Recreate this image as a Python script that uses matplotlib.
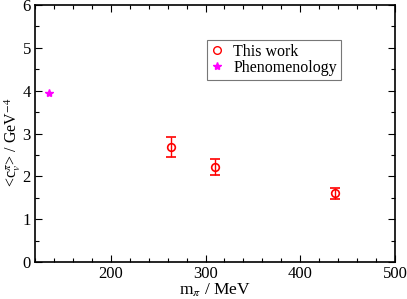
import matplotlib
matplotlib.use('Agg')
import matplotlib.pyplot as plt
from matplotlib.ticker import MultipleLocator
from matplotlib.lines import Line2D

plt.rcParams['font.family'] = ['Liberation Serif', 'DejaVu Serif']
plt.rcParams['mathtext.fontset'] = 'stix'

# lattice results
m_pi = [264, 310.5, 436.5]
cv = [2.68, 2.22, 1.60]
cv_err = [0.23, 0.19, 0.13]

# phenomenology
m_pi_phen = [135]
cv_phen = [3.94]

fig = plt.figure(figsize=(4.07, 2.99), dpi=100)
ax = fig.add_axes([35/407, 37/299, 360/407, 257/299])

ax.errorbar(m_pi, cv, yerr=cv_err, fmt='o', mfc='none', mec='red', ecolor='red',
            ms=5.5, mew=1.2, elinewidth=1.0, capsize=3.5, capthick=1.0)
ax.plot(m_pi_phen, cv_phen, '*', color='magenta', ms=6, mec='magenta', linestyle='none')

ax.set_xlim(120, 500)
ax.set_ylim(0, 6)
ax.xaxis.set_major_locator(MultipleLocator(100))
ax.xaxis.set_minor_locator(MultipleLocator(20))
ax.yaxis.set_major_locator(MultipleLocator(1))
ax.yaxis.set_minor_locator(MultipleLocator(0.5))
ax.tick_params(which='both', direction='in', top=True, right=True, labelsize=12, width=0.8)
ax.tick_params(which='major', length=5, pad=3)
ax.tick_params(which='minor', length=3)
for s in ax.spines.values():
    s.set_linewidth(1.2)

ax.set_xlabel(r'm$_\pi$ / MeV', fontsize=12.5)
ax.xaxis.set_label_coords(0.5, -0.078)
ax.set_ylabel(r'<c$_v^{\pi}$> / GeV$^{-4}$', fontsize=11.5)
ax.yaxis.set_label_coords(-0.034, 0.467)

handles = [Line2D([], [], marker='o', mfc='none', mec='red', ms=5.5, mew=1.0, ls='none'),
           Line2D([], [], marker='*', color='magenta', ms=6, ls='none')]
leg = ax.legend(handles, ['This work', 'Phenomenology'], loc='upper left',
                bbox_to_anchor=(172/360, 1-35/257),
                fontsize=11.5, frameon=True, fancybox=False, edgecolor='#555555',
                handlelength=0.8, handletextpad=0.6, borderpad=0.25, labelspacing=0.0,
                borderaxespad=0)
leg.get_frame().set_linewidth(0.8)

fig.savefig('out.png', dpi=100)
